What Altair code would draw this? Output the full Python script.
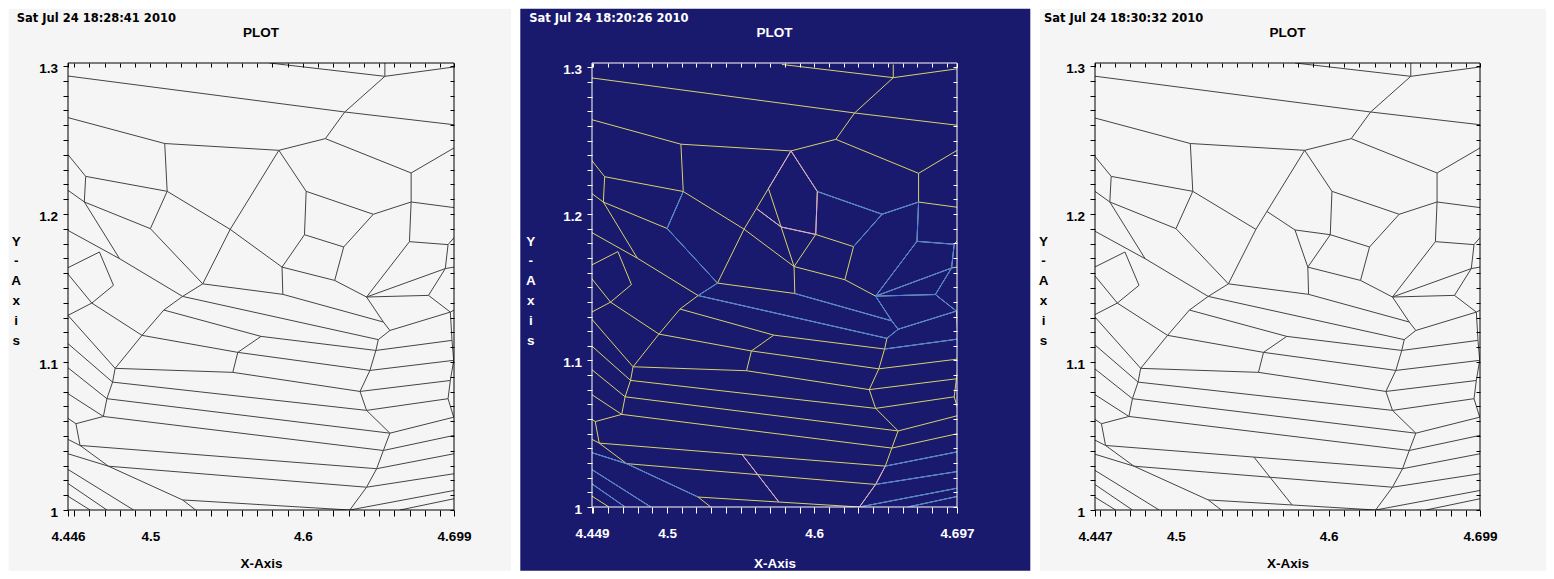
import altair as alt
import pandas as pd

# ---------------- data (Voronoi edges, data units) ----------------
top_lines = [
    [(4.446, 1.2932), (4.6274, 1.2689), (4.699, 1.2603)],
    [(4.578, 1.302), (4.6537, 1.2930), (4.699, 1.2993)],
    [(4.6537, 1.302), (4.6537, 1.2930)],
]
upper_cells = [
    [(4.6537, 1.2930), (4.6274, 1.2689), (4.6147, 1.2509), (4.5842, 1.2430), (4.5094, 1.2476), (4.446, 1.2651)],
    [(4.6147, 1.2509), (4.6709, 1.2277), (4.699, 1.2446)],
    [(4.5094, 1.2476), (4.5110, 1.2153)],
    [(4.446, 1.2401), (4.4576, 1.2254), (4.5110, 1.2153)],
    [(4.4576, 1.2254), (4.4567, 1.2081), (4.5, 1.1901), (4.5110, 1.2153)],
    [(4.446, 1.2160), (4.4567, 1.2081)],
    [(4.5110, 1.2153), (4.5523, 1.1896)],
    [(4.5842, 1.2430), (4.5523, 1.1896), (4.5343, 1.1528)],
    [(4.5, 1.1901), (4.5343, 1.1528)],
    [(4.4567, 1.2081), (4.4798, 1.1698)],
    [(4.446, 1.1889), (4.4798, 1.1698), (4.5211, 1.1443)],
    [(4.446, 1.1637), (4.4666, 1.1743), (4.4758, 1.1518), (4.4616, 1.1398), (4.446, 1.1315)],
    [(4.446, 1.1594), (4.4616, 1.1398)],
    [(4.4616, 1.1398), (4.4945, 1.1180), (4.4769, 1.0957)],
    [(4.4945, 1.1180), (4.5088, 1.1351), (4.5211, 1.1443), (4.5343, 1.1528)],
]
link_v11_v12 = [
    [(4.5523, 1.1896), (4.5863, 1.1641)],
]
center_cells = [
    [(4.5842, 1.2430), (4.6021, 1.2153), (4.6010, 1.1860), (4.5863, 1.1641)],
    [(4.6021, 1.2153), (4.6461, 1.1998), (4.6709, 1.2081)],
    [(4.6010, 1.1860), (4.6267, 1.1777), (4.6461, 1.1998)],
    [(4.6267, 1.1777), (4.6208, 1.1551), (4.6417, 1.1439)],
    [(4.5863, 1.1641), (4.6208, 1.1551)],
    [(4.5863, 1.1641), (4.5868, 1.1457)],
    [(4.5343, 1.1528), (4.5868, 1.1457), (4.6527, 1.1270)],
    [(4.5211, 1.1443), (4.6494, 1.1151)],
    [(4.5088, 1.1351), (4.5725, 1.1173), (4.6478, 1.1078)],
    [(4.4945, 1.1180), (4.5573, 1.1065), (4.6439, 1.0943)],
    [(4.5725, 1.1173), (4.5573, 1.1065), (4.5540, 1.0930)],
    [(4.4769, 1.0957), (4.5540, 1.0930), (4.6374, 1.0801)],
]
right_cells = [
    [(4.6709, 1.2277), (4.6709, 1.2081), (4.6698, 1.1813), (4.6951, 1.1793), (4.6933, 1.1631), (4.699, 1.1641)],
    [(4.6709, 1.2081), (4.699, 1.2043)],
    [(4.6951, 1.1793), (4.699, 1.1840)],
    [(4.6698, 1.1813), (4.6417, 1.1439)],
    [(4.6933, 1.1631), (4.6417, 1.1439)],
    [(4.6933, 1.1631), (4.6823, 1.1450)],
    [(4.6417, 1.1439), (4.6823, 1.1450), (4.6966, 1.1337), (4.699, 1.1350)],
    [(4.6570, 1.1213), (4.6966, 1.1337)],
    [(4.6966, 1.1337), (4.6977, 1.1146), (4.6988, 1.1011), (4.6966, 1.0875), (4.6951, 1.0752), (4.6988, 1.0627)],
]
right_boundary = [
    [(4.6417, 1.1439), (4.6527, 1.1270), (4.6570, 1.1213), (4.6494, 1.1151), (4.6478, 1.1078),
     (4.6439, 1.0943), (4.6374, 1.0801), (4.6417, 1.0673), (4.6570, 1.0519), (4.6527, 1.0402),
     (4.6483, 1.0279), (4.6417, 1.0154), (4.6307, 1.0)],
]
right_fan = [
    [(4.6478, 1.1078), (4.6977, 1.1146)],
    [(4.6439, 1.0943), (4.6988, 1.1011)],
    [(4.6374, 1.0801), (4.6966, 1.0875)],
    [(4.6417, 1.0673), (4.6951, 1.0752)],
    [(4.6570, 1.0519), (4.6988, 1.0627)],
    [(4.6527, 1.0402), (4.699, 1.0504)],
    [(4.6483, 1.0279), (4.699, 1.0380)],
    [(4.6417, 1.0154), (4.699, 1.0245)],
    [(4.6307, 1.0), (4.699, 1.0132)],
    [(4.6636, 1.0), (4.699, 1.0076)],
]
middle_bands = [
    [(4.4752, 1.0864), (4.6417, 1.0673)],
    [(4.4715, 1.0752), (4.6570, 1.0519)],
    [(4.4692, 1.0632), (4.6527, 1.0402)],
    [(4.4539, 1.0436), (4.6483, 1.0279)],
    [(4.4725, 1.0296), (4.6417, 1.0154)],
    [(4.5211, 1.0068), (4.6307, 1.0)],
]
left_boundary = [
    [(4.4769, 1.0957), (4.4752, 1.0864), (4.4715, 1.0752), (4.4692, 1.0632), (4.4512, 1.0583),
     (4.4539, 1.0436), (4.4725, 1.0296), (4.5211, 1.0068), (4.5297, 1.0)],
]
left_fan = [
    [(4.446, 1.1315), (4.4769, 1.0957)],
    [(4.446, 1.1124), (4.4752, 1.0864)],
    [(4.446, 1.0961), (4.4715, 1.0752)],
    [(4.446, 1.0786), (4.4692, 1.0632)],
    [(4.446, 1.0619), (4.4512, 1.0583)],
    [(4.446, 1.0477), (4.4539, 1.0436)],
    [(4.446, 1.0380), (4.4725, 1.0296)],
    [(4.446, 1.0274), (4.4890, 1.0)],
    [(4.446, 1.0179), (4.4715, 1.0)],
    [(4.446, 1.0093), (4.4605, 1.0)],
]
# extra edges present only in some panels
middle_only = [
    [(4.5689, 1.2173), (4.5775, 1.1911), (4.5863, 1.1641)],
]
middle_pink_extra = [
    [(4.5607, 1.2037), (4.5775, 1.1911), (4.6010, 1.1860)],
]
right_only = [
    [(4.5597, 1.2016), (4.5779, 1.1892), (4.5863, 1.1641)],
    [(4.5779, 1.1892), (4.6010, 1.1860)],
]
bottom_extra = [
    [(4.5510, 1.0358), (4.5760, 1.0034)],
]
# colour overlays for the middle (navy) panel
middle_blue = [
    [(4.5, 1.1901), (4.5110, 1.2153)],
    [(4.5, 1.1901), (4.5343, 1.1528)],
    [(4.6021, 1.2153), (4.6461, 1.1998), (4.6709, 1.2081)],
    [(4.6267, 1.1777), (4.6461, 1.1998)],
    [(4.6709, 1.2081), (4.6698, 1.1813), (4.6951, 1.1793), (4.6933, 1.1631)],
    [(4.6698, 1.1813), (4.6417, 1.1439)],
    [(4.6933, 1.1631), (4.6417, 1.1439)],
    [(4.6933, 1.1631), (4.6823, 1.1450)],
    [(4.5343, 1.1528), (4.5211, 1.1443), (4.6494, 1.1151)],
    [(4.5868, 1.1457), (4.6527, 1.1270)],
    [(4.6417, 1.1439), (4.6527, 1.1270), (4.6570, 1.1213), (4.6494, 1.1151)],
    [(4.6417, 1.1439), (4.6823, 1.1450), (4.6966, 1.1337), (4.699, 1.1350)],
    [(4.6570, 1.1213), (4.6966, 1.1337)],
    [(4.6478, 1.1078), (4.6977, 1.1146)],
    [(4.6483, 1.0279), (4.699, 1.0380)],
    [(4.6417, 1.0154), (4.699, 1.0245)],
    [(4.6307, 1.0), (4.699, 1.0132)],
    [(4.6636, 1.0), (4.699, 1.0076)],
    [(4.446, 1.0380), (4.4725, 1.0296)],
    [(4.4725, 1.0296), (4.5211, 1.0068)],
    [(4.446, 1.0274), (4.4890, 1.0)],
    [(4.446, 1.0179), (4.4715, 1.0)],
]
middle_pink = [
    [(4.5842, 1.2430), (4.6021, 1.2153), (4.6010, 1.1860)],
    [(4.5842, 1.2430), (4.5689, 1.2173)],
    [(4.6483, 1.0279), (4.6417, 1.0154), (4.6307, 1.0)],
]

stamps = ["Sat Jul 24 18:28:41 2010", "Sat Jul 24 18:20:26 2010", "Sat Jul 24 18:30:32 2010"]
plot_title = "PLOT"
x_title = "X-Axis"
y_title = ["Y", "-", "A", "x", "i", "s"]
x_domains = [(4.446, 4.699), (4.449, 4.697), (4.447, 4.699)]
y_domains = [(1.0, 1.302), (1.0, 1.303), (1.0, 1.302)]
x_label_values = [[4.446, 4.5, 4.6, 4.699], [4.449, 4.5, 4.6, 4.697], [4.447, 4.5, 4.6, 4.699]]
x_label_texts = [["4.446", "4.5", "4.6", "4.699"], ["4.449", "4.5", "4.6", "4.697"], ["4.447", "4.5", "4.6", "4.699"]]
y_label_values = [1.0, 1.1, 1.2, 1.3]
y_label_texts = ["1", "1.1", "1.2", "1.3"]

# ---------------- styling ----------------
FONT = "Liberation Sans"
STAMP_FONT = "DejaVu Sans"
FS = 13.5


def to_df(paths, prefix):
    rows = []
    for i, p in enumerate(paths):
        for j, (x, y) in enumerate(p):
            rows.append({"path": f"{prefix}{i:03d}", "seq": j, "x": x, "y": y})
    return pd.DataFrame(rows)


def label_expr(vals, texts, fmt):
    expr = "''"
    for v, t in zip(reversed(vals), reversed(texts)):
        expr = f"format(datum.value,'{fmt}') == '{format(v, fmt)}' ? '{t}' : {expr}"
    return expr


def panel(k, paths, overlays, fg, bg_color, line_color, w, h, bg_x0, bg_x1, stamp_x, ylet_x):
    xd, yd = x_domains[k], y_domains[k]
    xs = alt.Scale(domain=list(xd), nice=False, zero=False)
    ys = alt.Scale(domain=list(yd), nice=False, zero=False)
    xticks = [xd[0]] + [round(4.45 + 0.01 * i, 2) for i in range(25)] + [xd[1]]
    yticks = [round(1.0 + 0.01 * i, 2) for i in range(31)]
    base_df = to_df(paths, "p")
    one = pd.DataFrame({"k": [0]})

    bottom_axis = alt.Axis(
        orient="bottom", values=xticks,
        labelExpr=label_expr(x_label_values[k], x_label_texts[k], ".3f"),
        tickSize=6, tickColor=fg, tickWidth=1, domain=False, grid=False,
        labelColor=fg, labelFont=FONT, labelFontSize=FS, labelFontWeight="bold",
        labelPadding=13, labelOverlap=False, labelFlush=False,
        title=x_title, titleColor=fg, titleFont=FONT, titleFontSize=FS, titleFontWeight="bold",
        titleX=w / 2, titleY=567 - 62.3 - h, titleAlign="center", titleBaseline="alphabetic",
        zindex=1,
    )
    left_axis = alt.Axis(
        orient="left", values=yticks,
        labelExpr=label_expr(y_label_values, y_label_texts, ".2f"),
        tickSize=5, tickColor=fg, tickWidth=1, domain=False, grid=False,
        labelColor=fg, labelFont=FONT, labelFontSize=FS, labelFontWeight="bold",
        labelPadding=5.5, labelOffset=2.5, labelOverlap=False, labelFlush=False,
        title=y_title, titleAngle=0, titleColor=fg, titleFont=FONT, titleFontSize=FS,
        titleFontWeight="bold", titleLineHeight=19.8, titleX=ylet_x, titleY=182,
        titleAlign="center", titleBaseline="alphabetic",
        zindex=1,
    )
    top_axis = alt.Axis(orient="top", values=xticks, labels=False, tickSize=4, offset=-4,
                        tickColor=fg, domain=False, grid=False, title=None, zindex=1)
    right_axis = alt.Axis(orient="right", values=yticks, labels=False, tickSize=4, offset=-4,
                          tickColor=fg, domain=False, grid=False, title=None, zindex=1)

    bg = alt.Chart(one).mark_rect(color=bg_color, clip=False).encode(
        x=alt.value(bg_x0), x2=alt.value(bg_x1), y=alt.value(-54.3), y2=alt.value(507.7))

    base = alt.Chart(base_df).mark_line(color=line_color, strokeWidth=1, clip=True).encode(
        x=alt.X("x:Q", scale=xs, axis=bottom_axis),
        y=alt.Y("y:Q", scale=ys, axis=left_axis),
        detail="path:N", order="seq:Q")

    layers = [bg, base]
    for n, (color, ps) in enumerate(overlays):
        layers.append(
            alt.Chart(to_df(ps, f"o{n}_")).mark_line(color=color, strokeWidth=1, clip=True).encode(
                x=alt.X("x:Q", scale=xs, axis=None),
                y=alt.Y("y:Q", scale=ys, axis=None),
                detail="path:N", order="seq:Q"))

    ticks_layer = alt.Chart(base_df).mark_line(strokeOpacity=0).encode(
        x=alt.X("x:Q", scale=xs, axis=top_axis),
        y=alt.Y("y:Q", scale=ys, axis=right_axis),
        detail="path:N", order="seq:Q")

    frame = alt.Chart(one).mark_rect(filled=False, color=fg, strokeWidth=1).encode(
        x=alt.value(0), x2=alt.value(w), y=alt.value(0), y2=alt.value(h))

    stamp = alt.Chart(one).mark_text(align="left", baseline="alphabetic", font=STAMP_FONT,
                                     fontSize=11.5, fontWeight="bold", color=fg).encode(
        x=alt.value(stamp_x), y=alt.value(-41.5), text=alt.value(stamps[k]))
    ptitle = alt.Chart(one).mark_text(align="center", baseline="alphabetic", font=FONT, fontSize=FS,
                                      fontWeight="bold", color=fg).encode(
        x=alt.value(w / 2), y=alt.value(-25.6), text=alt.value(plot_title))

    layers += [ticks_layer, frame, stamp, ptitle]
    return alt.layer(*layers).resolve_axis(x="independent", y="independent").properties(width=w, height=h)


shared = top_lines + upper_cells + center_cells + right_cells + right_boundary + right_fan + \
    middle_bands + left_boundary + left_fan

YELLOW = "#d8d26a"
BLUE = "#3d7fea"
PINK = "#d9a6dd"

left = panel(0, shared + link_v11_v12, [], "#000000", "#f5f5f5", "#444444",
             386, 447, -59.3, 443, -51.3, -52.3)
middle = panel(1, shared + link_v11_v12 + middle_only + middle_pink_extra + bottom_extra,
               [(BLUE, middle_blue), (PINK, middle_pink + middle_pink_extra + bottom_extra)],
               "#ffffff", "#19196e", YELLOW, 365, 444, -71.7, 438.3, -62.7, -61.7)
right = panel(2, shared + right_only + bottom_extra, [], "#000000", "#f5f5f5", "#444444",
              385, 447, -55, 451, -51, -52)

chart = alt.hconcat(left, middle, right, spacing=138, bounds="flush").properties(
    padding=0
).configure_view(strokeWidth=0)

chart.save("out.html", embed_options={"renderer": "svg", "actions": False})
